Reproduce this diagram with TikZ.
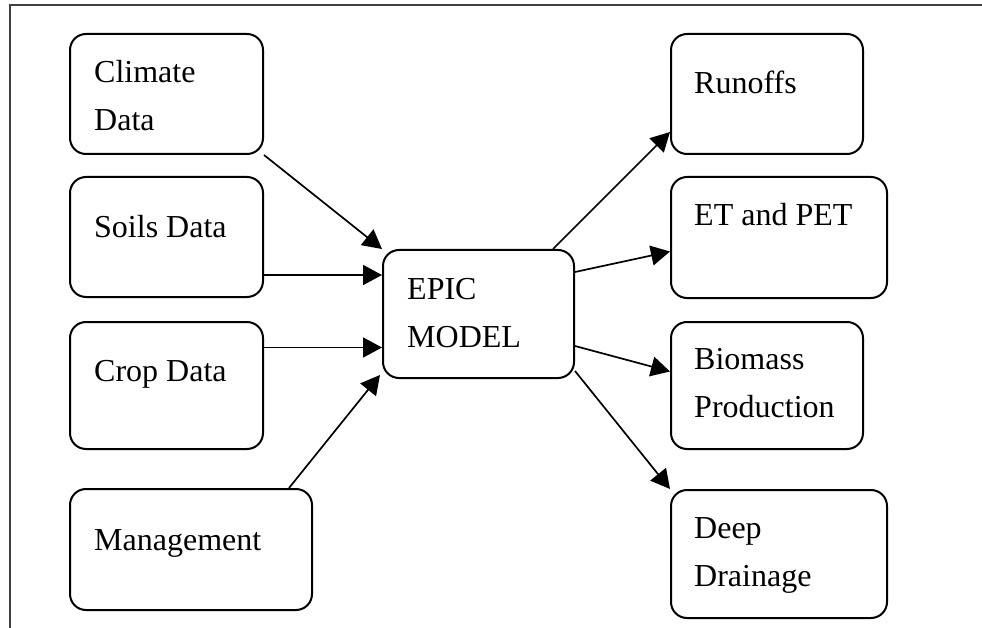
\documentclass[tikz,border=0pt]{standalone}
\usepackage{fontspec}
\setmainfont{Liberation Serif}
\usetikzlibrary{arrows.meta}

\tikzset{
  box/.style={draw, line width=2pt, rounded corners=16pt},
  txt/.style={anchor=base west, align=left, inner sep=0pt,
    font=\fontsize{32}{48}\selectfont},
  arr/.style={-{Triangle[length=19pt,width=20pt]}, line width=1.7pt}
}

\begin{document}
\begin{tikzpicture}[x=1pt, y=-1pt]
        \useasboundingbox (0,0) rectangle (982,628);
        \draw[line width=2pt, black!75] (982,5) -- (10,5) -- (10,628);
        % inputs
        \node[box, minimum width=193pt, minimum height=120pt] (Cl) at (166.5,94) {};
        \node[box, minimum width=193pt, minimum height=120pt] (So) at (166.5,237) {};
        \node[box, minimum width=193pt, minimum height=127pt] (Cr) at (166.5,385.5) {};
        \node[box, minimum width=242pt, minimum height=121pt] (Ma) at (191,549.5) {};
        % model
        \node[box, minimum width=191pt, minimum height=128pt] (EP) at (478.5,314) {};
        % outputs
        \node[box, minimum width=192pt, minimum height=120pt] (Ru) at (767,94) {};
        \node[box, minimum width=216pt, minimum height=121pt] (ET) at (779,237.5) {};
        \node[box, minimum width=192pt, minimum height=127pt] (Bi) at (767,385.5) {};
        \node[box, minimum width=216pt, minimum height=128pt] (DD) at (779,554) {};
        % labels (base = last line)
        \node[txt] (Cl-t) at ([xshift=25pt,yshift=-98pt]Cl.north west) {Climate\\Data};
        \node[txt] (So-t) at ([xshift=25pt,yshift=-62pt]So.north west) {Soils Data};
        \node[txt] (Cr-t) at ([xshift=25pt,yshift=-60pt]Cr.north west) {Crop Data};
        \node[txt] (Ma-t) at ([xshift=25pt,yshift=-62pt]Ma.north west) {Management};
        \node[txt] (EP-t) at ([xshift=25pt,yshift=-98pt]EP.north west) {EPIC\\MODEL};
        \node[txt] (Ru-t) at ([xshift=24pt,yshift=-61pt]Ru.north west) {Runoffs};
        \node[txt] (ET-t) at ([xshift=24pt,yshift=-50pt]ET.north west) {ET and PET};
        \node[txt] (Bi-t) at ([xshift=24pt,yshift=-96pt]Bi.north west) {Biomass\\Production};
        \node[txt] (DD-t) at ([xshift=24pt,yshift=-97pt]DD.north west) {Deep\\Drainage};
        \draw[arr] (Cl.south east) -- (EP.north west);
        \draw[arr] ([yshift=-38pt]So.east) -- ([yshift=-38pt]So.east -| EP.west);
        \draw[arr] ([yshift=38pt]Cr.east) -- ([yshift=38pt]Cr.east -| EP.west);
        \draw[arr] ([xshift=-24pt]Ma.north east) -- ([xshift=-2pt,yshift=4pt]EP.south west);
        \draw[arr] ([xshift=-22pt]EP.north east) -- ([yshift=23pt]Ru.south west);
        \draw[arr] ([yshift=-23pt]EP.north east) -- ([yshift=-14pt]ET.west);
        \draw[arr] ([yshift=-32pt]EP.east) -- ([yshift=14pt]Bi.west);
        \draw[arr] ([yshift=8pt]EP.south east) -- (DD.north west);
    \end{tikzpicture}
\end{document}
